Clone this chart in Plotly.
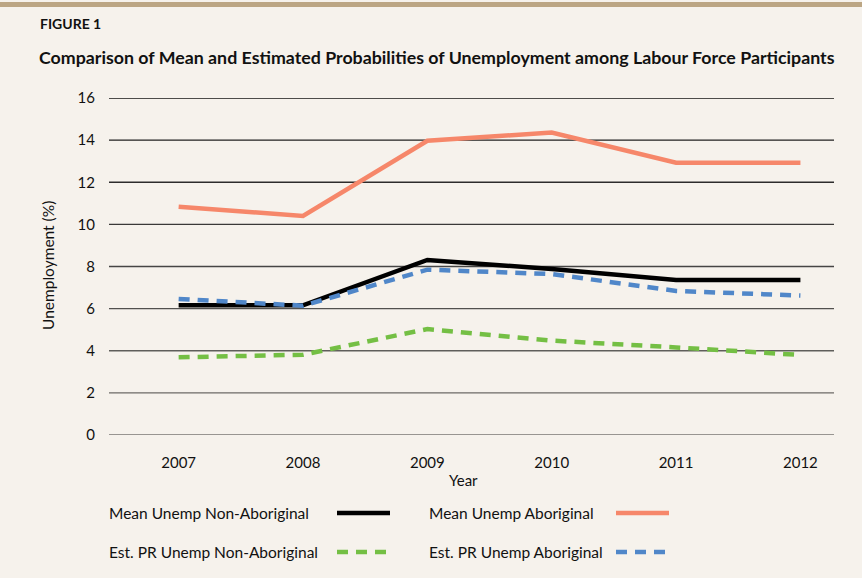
import plotly.graph_objects as go

years = [2007, 2008, 2009, 2010, 2011, 2012]
mean_non_ab = [6.16, 6.16, 8.31, 7.88, 7.36, 7.36]
mean_ab = [10.84, 10.40, 13.97, 14.36, 12.93, 12.93]
est_non_ab = [3.69, 3.81, 5.03, 4.48, 4.16, 3.80]
est_ab = [6.46, 6.14, 7.85, 7.64, 6.84, 6.62]
y_ticks = [0, 2, 4, 6, 8, 10, 12, 14, 16]

FONT = "Lato, Roboto, sans-serif"
BG = "#f6f2ec"

C_BLACK = "#000000"
C_ORANGE = "#f6876a"
C_GREEN = "#74bf44"
C_BLUE = "#5087c9"

fig = go.Figure()
series = [
    ("Mean Unemp Non-Aboriginal", mean_non_ab, C_BLACK, "solid"),
    ("Mean Unemp Aboriginal", mean_ab, C_ORANGE, "solid"),
    ("Est. PR Unemp Non-Aboriginal", est_non_ab, C_GREEN, "11px,8px"),
    ("Est. PR Unemp Aboriginal", est_ab, C_BLUE, "11px,8px"),
]
for name, vals, col, dash in series:
    fig.add_trace(go.Scatter(x=years, y=vals, mode="lines", name=name,
                             line=dict(color=col, width=4.5, dash=dash),
                             showlegend=False))

L, R, T, B = 109, 28, 98, 143
W, H = 862, 578
pw, ph = W - L - R, H - T - B

def px(x):
    return (x - L) / pw

def py(y):
    return (H - B - y) / ph

fig.update_layout(
    width=W, height=H,
    margin=dict(l=L, r=R, t=T, b=B),
    paper_bgcolor=BG, plot_bgcolor=BG,
    font=dict(family=FONT, size=15, color="#111"),
    xaxis=dict(range=[2006.44, 2012.27], tickvals=years, ticktext=[str(y) for y in years],
               showgrid=False, zeroline=False, showline=False, ticks="outside",
               ticklen=14, tickcolor=BG, tickfont=dict(size=15)),
    yaxis=dict(range=[0, 16], tickvals=y_ticks, showgrid=False,
               zeroline=False, showline=False, ticks="outside",
               ticklen=10, tickcolor=BG, tickfont=dict(size=15)),
)

# gridlines: dark at top, fading to grey at the bottom (as in the reference)
top_rgb, bot_rgb = (20, 20, 20), (120, 118, 115)
for v in y_ticks:
    f = v / max(y_ticks)
    rgb = tuple(int(round(b + (t - b) * f)) for t, b in zip(top_rgb, bot_rgb))
    fig.add_shape(type="line", xref="paper", yref="y", x0=0, x1=1, y0=v, y1=v,
                  line=dict(color="rgb(%d,%d,%d)" % rgb, width=1.4), layer="below")

annotations = [
    dict(text="<b>FIGURE 1</b>", x=px(38), y=py(24), xanchor="left", yanchor="middle",
         font=dict(size=14)),
    dict(text="<b>Comparison of Mean and Estimated Probabilities of Unemployment among Labour Force Participants</b>",
         x=px(37), y=py(57), xanchor="left", yanchor="middle", font=dict(size=17.8)),
    dict(text="Unemployment (%)", x=px(48), y=py(266), textangle=-90,
         xanchor="center", yanchor="middle", font=dict(size=15.5)),
    dict(text="Year", x=px(463), y=py(480), xanchor="center", yanchor="middle",
         font=dict(size=15)),
]
for a in annotations:
    a.update(xref="paper", yref="paper", showarrow=False)
fig.update_layout(annotations=annotations)

# legend rows (text left, sample right)
legend_items = [
    (series[0], 107, 337, 513),
    (series[1], 427, 616, 513),
    (series[2], 107, 337, 552),
    (series[3], 427, 616, 552),
]
for (name, _, col, dash), tx, sx, ry in legend_items:
    fig.add_annotation(text=name, x=px(tx), y=py(ry), xref="paper", yref="paper",
                       showarrow=False, xanchor="left", yanchor="middle", font=dict(size=15.5))
    fig.add_shape(type="line", xref="paper", yref="paper",
                  x0=px(sx), x1=px(sx + 53), y0=py(ry), y1=py(ry),
                  line=dict(color=col, width=4.5, dash=dash))

# top decorative bar
fig.add_shape(type="rect", xref="paper", yref="paper", x0=px(0), x1=px(W),
              y0=py(7), y1=py(2), fillcolor="#bca684", line=dict(width=0), layer="above")

fig.write_html("out.html", config={"displayModeBar": False},
               post_script="document.body.style.margin='0';document.body.style.padding='0';")
